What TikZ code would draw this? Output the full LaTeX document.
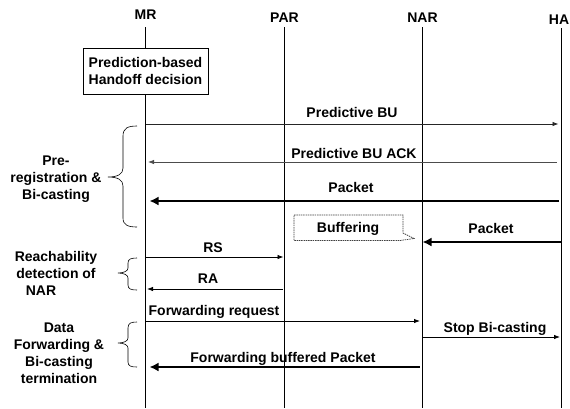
\documentclass[tikz,border=0pt]{standalone}
\usepackage{fontspec}
\setmainfont{Liberation Sans}
\usetikzlibrary{arrows.meta}
\begin{document}
\begin{tikzpicture}[x=1pt,y=-1pt,
  lbl/.style={font=\fontsize{14}{16.5}\selectfont\bfseries, inner sep=0pt, anchor=base},
  side/.style={font=\fontsize{14}{17}\selectfont\bfseries, inner sep=0pt, align=center, anchor=north},
  life/.style={line width=1.2pt, black},
  msgthin/.style={line width=0.8pt, -{Latex[length=6pt,width=4.5pt]}},
  msgthick/.style={line width=2.8pt, -{Latex[length=9pt,width=9pt]}},
  brc/.style={line width=0.6pt},
  decbox/.style={draw, line width=0.9pt, fill=white, minimum width=125pt, minimum height=46pt,
    align=center, inner sep=0pt, font=\fontsize{14}{17}\selectfont\bfseries},
  callout/.style={line width=0.7pt, black!75, dash pattern=on 1.5pt off 0.8pt}]
\useasboundingbox (0,0) rectangle (570,408);
% lifeline heads
\node[lbl] (MR) at (145.5,19) {MR};
\node[lbl] (PAR) at (284.5,22.5) {PAR};
\node[lbl] (NAR) at (422.5,22.5) {NAR};
\node[lbl] (HA) at (559,24) {HA};
% lifelines
\coordinate (MRt) at (145.5,27);  \coordinate (MRb) at (145.5,408);
\coordinate (PARt) at (284.5,27); \coordinate (PARb) at (284.5,408);
\coordinate (NARt) at (422.5,27); \coordinate (NARb) at (422.5,408);
\coordinate (HAt) at (561.5,28);  \coordinate (HAb) at (561.5,408);
\draw[life] (MRt) -- (MRb);
\draw[life] (PARt) -- (PARb);
\draw[life] (NARt) -- (NARb);
\draw[life] (HAt) -- (HAb);
% decision box
\node[decbox] (dec) at (145.5,71) {Prediction-based\\Handoff decision};
% messages
\draw[msgthin, black!85, shorten >=3pt] (MRt |- 0,124) -- (HAt |- 0,124);
\node[lbl] (lbu) at (352,117) {Predictive BU};
\draw[msgthin, black!70, shorten <=5pt, shorten >=2.5pt] (HAt |- 0,162) -- (MRt |- 0,162);
\node[lbl] (lack) at (354,158) {Predictive BU ACK};
\draw[msgthick, shorten <=2.5pt, shorten >=4pt] (HAt |- 0,201) -- (MRt |- 0,201);
\node[lbl] (lp1) at (351,192) {Packet};
\draw[callout] (294,215) -- (403,215) -- (403,233) -- (414,238.5) -- (400,240.5) -- (294,240.5) -- cycle;
\node[lbl] (buf) at (348,232) {Buffering};
\draw[msgthick, shorten >=0pt] (HAt |- 0,242) -- (NARt |- 0,242);
\node[lbl] (lp2) at (491,233) {Packet};
\draw[msgthin, shorten >=1pt] (MRt |- 0,257) -- (PARt |- 0,257);
\node[lbl] (lrs) at (213,252) {RS};
\draw[msgthin, shorten <=2pt, shorten >=1.5pt] (PARt |- 0,289) -- (MRt |- 0,289);
\node[lbl] (lra) at (208,283.5) {RA};
\draw[msgthin, shorten >=2.5pt] (MRt |- 0,321) -- (NARt |- 0,321);
\node[lbl] (lfr) at (214,315) {Forwarding request};
\draw[msgthin, shorten >=1.5pt] (NARt |- 0,337) -- (HAt |- 0,337);
\node[lbl] (lsb) at (495,332.5) {Stop Bi-casting};
\draw[msgthick, shorten <=3pt, shorten >=4pt] (NARt |- 0,367) -- (MRt |- 0,367);
\node[lbl] (lfb) at (283,362) {Forwarding buffered Packet};
% braces
\draw[brc] (137,126) .. controls (128,126) and (123,128) .. (123,136) -- (123,168)
  .. controls (123,174) and (118,177) .. (108,177) .. controls (118,177) and (123,180) .. (123,186)
  -- (123,218) .. controls (123,225) and (128,227) .. (137,227);
\draw[brc] (137,258) .. controls (131,258) and (128,259) .. (128,263) -- (128,268)
  .. controls (128,271) and (124,273) .. (118,273) .. controls (124,273) and (128,275) .. (128,278)
  -- (128,285) .. controls (128,289) and (131,290) .. (137,290);
\draw[brc] (137,322) .. controls (131,322) and (128,323) .. (128,328) -- (128,338)
  .. controls (128,341) and (124,343) .. (118,343) .. controls (124,343) and (128,345) .. (128,348)
  -- (128,362) .. controls (128,366) and (131,367) .. (137,367);
% side labels
\node[side] (g1) at (56,156) {Pre-\\registration \&\\Bi-casting};
\node[side] (g2) at (56,251) {Reachability\\detection of\\NAR\hspace*{30pt}};
\node[side] (g3) at (59,323) {Data\\Forwarding \&\\Bi-casting\\termination};
\end{tikzpicture}
\end{document}
